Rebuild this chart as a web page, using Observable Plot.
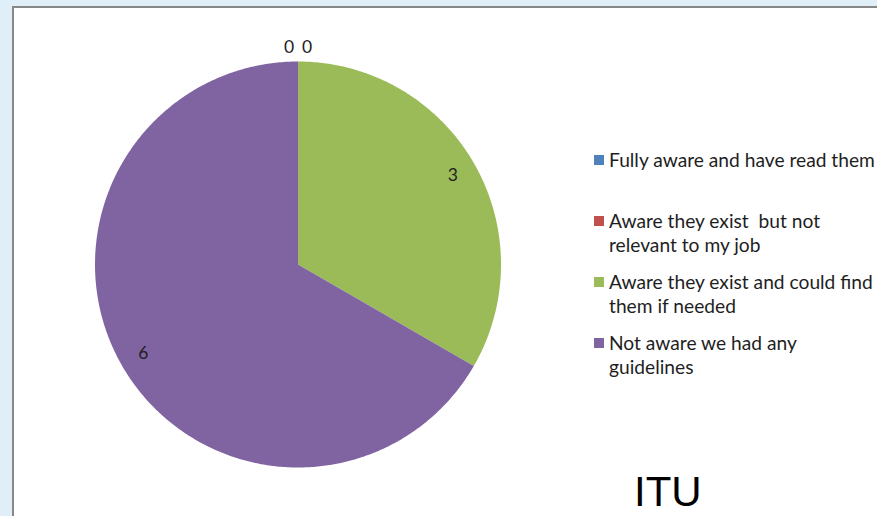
<!DOCTYPE html>
<html><head><meta charset="utf-8">
<script src="https://cdn.jsdelivr.net/npm/d3@7"></script>
<script src="https://cdn.jsdelivr.net/npm/@observablehq/plot@0.6"></script>
<style>
body{margin:0;}
#wrap{position:relative;width:877px;height:516px;background:#e0eef7;overflow:hidden;font-family:Lato,"Noto Sans",sans-serif;}
#panel{position:absolute;left:12px;top:6px;width:900px;height:600px;background:#fff;border-left:2px solid #878787;border-top:2px solid #878787;}
#chart{position:absolute;left:0;top:0;}
#legend{position:absolute;left:594px;top:148px;}
.item{position:relative;height:61px;}
.sw{position:absolute;left:0;top:7px;width:10px;height:10px;}
.lab{position:absolute;left:15px;top:0;width:272px;font-size:19.2px;line-height:24px;color:#1e1e1e;white-space:pre-wrap;}
#title{position:absolute;left:634px;top:468px;font-family:"Liberation Sans",Arial,sans-serif;font-size:42px;line-height:48px;color:#000;}
</style></head>
<body>
<div id="wrap"><div id="panel"></div><div id="chart"></div><div id="legend"></div><div id="title">ITU</div></div>
<script>
const categories = ["Fully aware and have read them", "Aware they exist  but not relevant to my job", "Aware they exist and could find them if needed", "Not aware we had any guidelines"];
const values = [0, 0, 3, 6];
const colors = ["#4f81bd", "#c0504d", "#9bbb59", "#8064a2"];

const data = categories.map((name, i) => ({name, value: values[i]}));
const arcs = d3.pie().sort(null).value(d => d.value)(data);

// slice outlines (unit circle, angle clockwise from 12 o'clock)
const pts = [];
arcs.forEach(a => {
  if (a.endAngle - a.startAngle <= 0) return;
  pts.push({name: a.data.name, x: 0, y: 0});
  const n = Math.max(2, Math.ceil((a.endAngle - a.startAngle) / 0.01));
  for (let k = 0; k <= n; k++) {
    const t = a.startAngle + (a.endAngle - a.startAngle) * k / n;
    pts.push({name: a.data.name, x: Math.sin(t), y: Math.cos(t)});
  }
});

const labels = arcs.map(a => {
  const m = (a.startAngle + a.endAngle) / 2;
  const r = a.data.value > 0 ? 0.88 : 1.07;
  return {name: a.data.name, value: a.data.value, x: Math.sin(m) * r, y: Math.cos(m) * r, zero: a.data.value === 0};
});
const zeros = labels.filter(d => d.zero);

const cx = 297.5, cy = 264, R = 203;
const font = {fontSize: 17.5, fill: "#1e1e1e", fontFamily: "Lato, sans-serif"};
const plot = Plot.plot({
  width: 877, height: 516,
  style: {background: "transparent"},
  x: {domain: [-1, 1], range: [cx - R, cx + R], axis: null},
  y: {domain: [-1, 1], range: [cy + R, cy - R], axis: null},
  color: {type: "ordinal", domain: categories, range: colors, legend: false},
  marks: [
    Plot.line(pts, {x: "x", y: "y", z: "name", fill: "name", stroke: "none", curve: "linear-closed"}),
    Plot.text(labels.filter(d => !d.zero), {x: "x", y: "y", text: d => String(d.value), ...font}),
    Plot.text(zeros.slice(0, 1), {x: "x", y: "y", dx: -9, text: d => String(d.value), ...font}),
    Plot.text(zeros.slice(1), {x: "x", y: "y", dx: 9, text: d => String(d.value), ...font})
  ]
});
document.getElementById("chart").appendChild(plot);

const leg = d3.select("#legend");
categories.forEach((c, i) => {
  const it = leg.append("div").attr("class", "item");
  it.append("div").attr("class", "sw").style("background", colors[i]);
  it.append("div").attr("class", "lab").text(c);
});
</script>
</body></html>
